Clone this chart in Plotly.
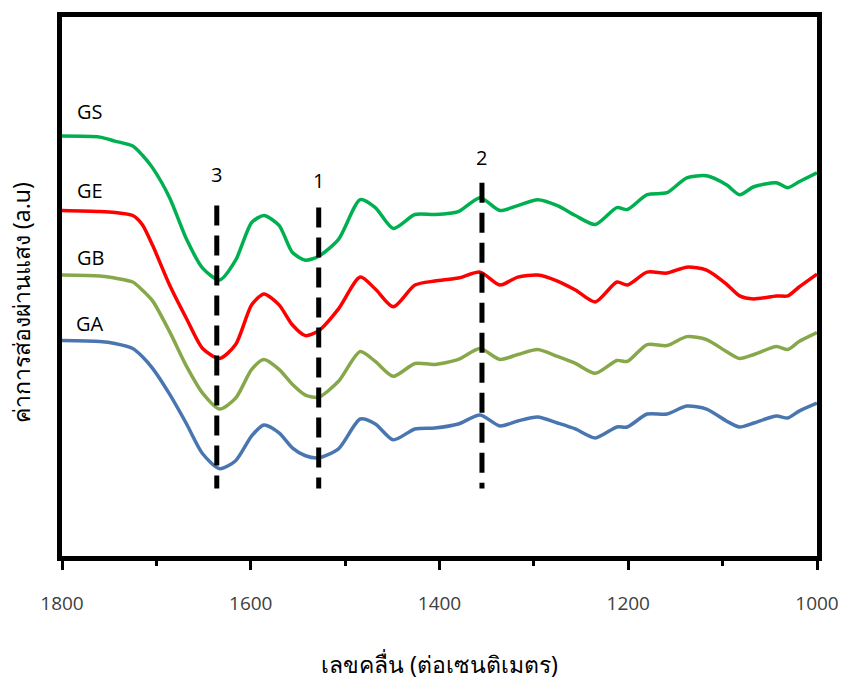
import plotly.graph_objects as go

wavenumber = [1800, 1760, 1744, 1725, 1715, 1704, 1686, 1668, 1651, 1633, 1616, 1599, 1586, 1570, 1556, 1542,
              1528, 1507, 1484, 1468, 1449, 1426, 1405, 1380, 1357, 1336, 1317, 1296, 1275, 1256,
              1235, 1212, 1201, 1180, 1159, 1138, 1117, 1096, 1082, 1067, 1043, 1031, 1019, 1000]

GS = [423, 422, 418, 413, 404, 391, 361, 319, 290, 278, 298, 336, 343, 333, 306, 298, 302, 319, 359, 351, 330,
      344, 344, 347, 361, 348, 353, 359, 353, 343, 334, 351, 349, 364, 366, 381, 383, 374, 364, 372,
      376, 371, 377, 386]
GE = [348, 347, 346, 343, 334, 313, 273, 239, 209, 199, 213, 253, 264, 253, 233, 222, 227, 249, 281, 269, 251,
      273, 277, 280, 286, 273, 281, 283, 277, 268, 256, 276, 273, 286, 285, 291, 288, 274, 262, 259,
      262, 262, 271, 284]
GB = [283, 282, 280, 276, 268, 257, 226, 191, 164, 148, 159, 188, 198, 188, 173, 162, 160, 176, 206, 196, 181,
      194, 193, 198, 209, 198, 203, 208, 201, 194, 184, 197, 196, 213, 212, 221, 218, 206, 199, 203,
      211, 208, 216, 225]
GA = [217, 216, 214, 209, 201, 189, 163, 133, 103, 88, 96, 121, 132, 124, 109, 101, 99, 108, 138, 133, 117,
      128, 129, 133, 142, 131, 136, 140, 134, 128, 119, 130, 130, 143, 143, 151, 148, 136, 130, 134,
      141, 139, 146, 154]

series_names = ["GS", "GE", "GB", "GA"]
series_colors = ["#00B050", "#FF0000", "#86A84A", "#4A76B0"]
series_label_y = [448, 368, 301, 234]
label_x = 1770

peak_labels = ["3", "1", "2"]
peak_positions = [1636, 1528, 1355]
peak_top = [353, 351, 376]
peak_bottom = 68
peak_label_y = [384, 378, 401]

x_ticks = [1800, 1600, 1400, 1200, 1000]

fig = go.Figure()
for name, vals, col in zip(series_names, [GS, GE, GB, GA], series_colors):
    fig.add_trace(go.Scatter(x=wavenumber, y=vals, mode="lines", name=name,
                             line=dict(color=col, width=3.5, shape="spline", smoothing=0.7),
                             showlegend=False))

for pos, top in zip(peak_positions, peak_top):
    fig.add_trace(go.Scatter(x=[pos, pos], y=[top, peak_bottom], mode="lines",
                             line=dict(color="black", width=5, dash="20px,10px"),
                             showlegend=False))

annotations = []
for name, yv in zip(series_names, series_label_y):
    annotations.append(dict(x=label_x, y=yv, text=name, showarrow=False,
                            font=dict(size=20, color="black", family="Open Sans, sans-serif")))
for lab, pos, yv in zip(peak_labels, peak_positions, peak_label_y):
    annotations.append(dict(x=pos, y=yv, text=lab, showarrow=False,
                            font=dict(size=20, color="black", family="Open Sans, sans-serif")))
annotations.append(dict(xref="paper", yref="paper", x=-0.055, y=0.47, xanchor="center", yanchor="middle",
                        text="ค่าการส่องผ่านแสง (a.u)", textangle=-90, showarrow=False,
                        font=dict(size=23, color="black")))
annotations.append(dict(xref="paper", yref="paper", x=0.5, y=-0.2, xanchor="center", yanchor="middle",
                        text="เลขคลื่น (ต่อเซนติเมตร)", showarrow=False,
                        font=dict(size=23, color="black")))

fig.update_layout(
    width=851, height=682,
    margin=dict(l=62, r=29, t=13, b=126),
    paper_bgcolor="white", plot_bgcolor="white",
    annotations=annotations,
    font=dict(family="Noto Sans, DejaVu Sans, sans-serif"),
)
fig.update_xaxes(range=[1800, 1000], tickvals=x_ticks, ticktext=[str(v) for v in x_ticks],
                 showgrid=False, zeroline=False, showline=True, linecolor="black", linewidth=5,
                 mirror=True, ticks="outside", ticklen=9, tickwidth=3, tickcolor="black",
                 minor=dict(dtick=100, tick0=1000, ticks="outside", ticklen=5, tickwidth=3, tickcolor="black"),
                 tickfont=dict(size=19, color="#404040", family="Open Sans, sans-serif"),
                 ticklabelstandoff=17)
fig.update_yaxes(range=[0, 543], showticklabels=False, showgrid=False, zeroline=False,
                 showline=True, linecolor="black", linewidth=5, mirror=True, ticks="")

fig.write_html("out.html")
